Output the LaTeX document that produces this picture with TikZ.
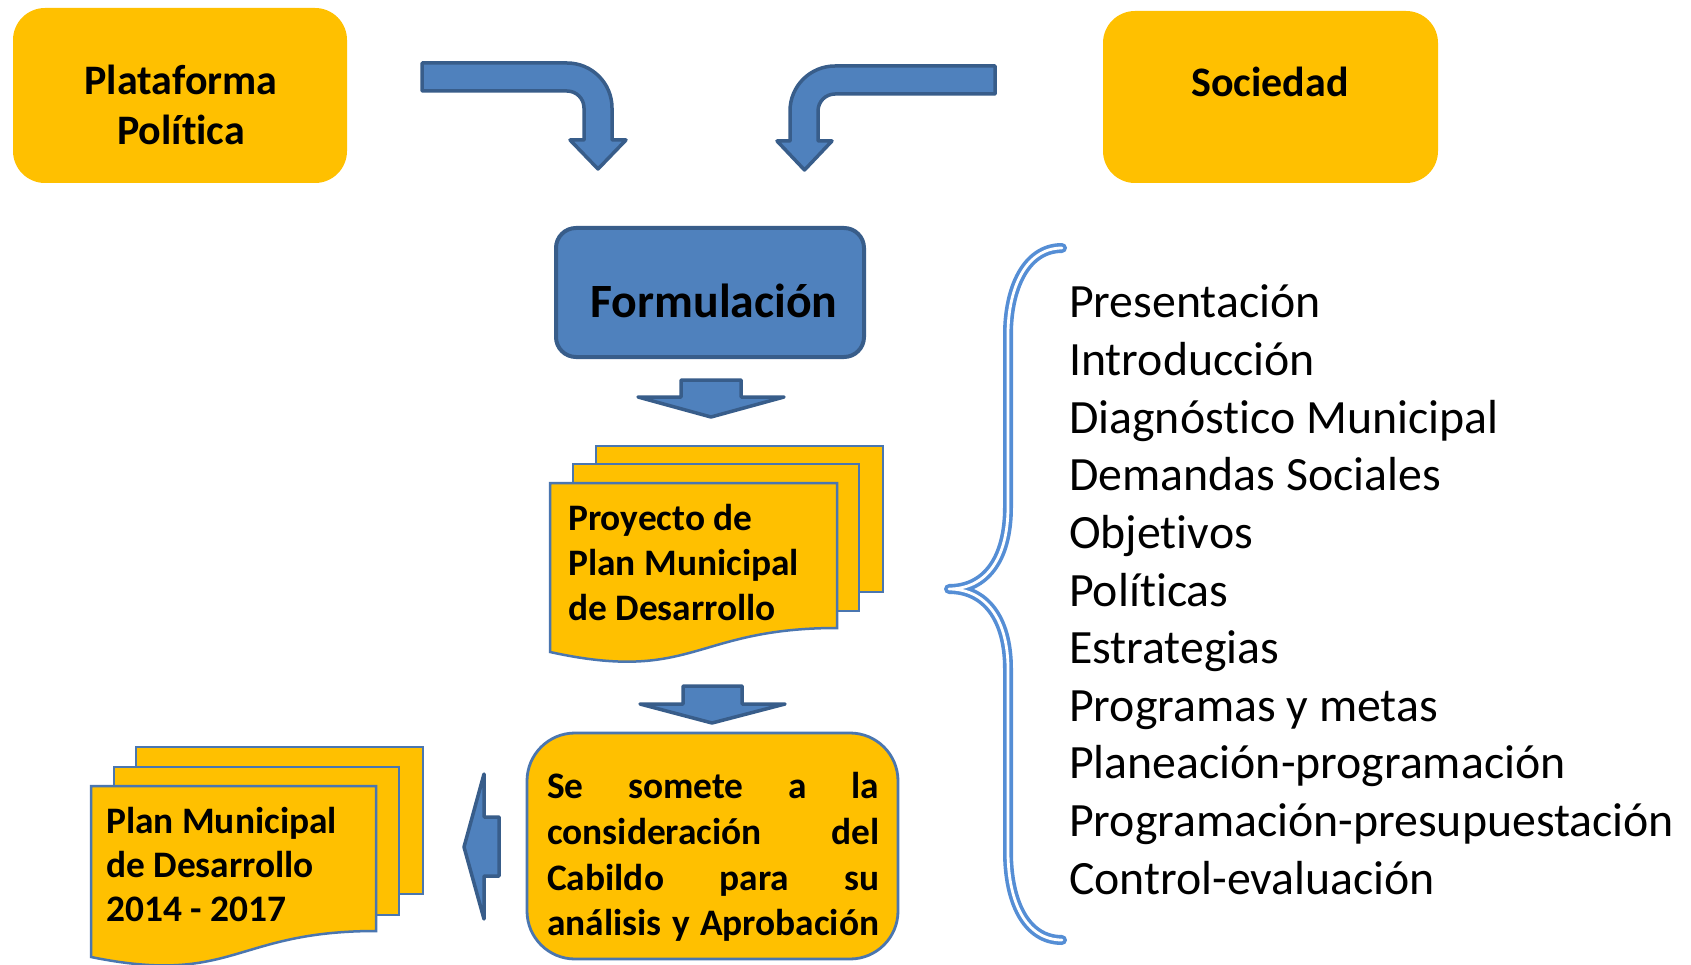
\documentclass[tikz,border=0pt]{standalone}
\usepackage{fontspec}
\setmainfont{Carlito}[Ligatures={NoCommon}]
\definecolor{yel}{HTML}{FFC000}
\definecolor{blueF}{HTML}{4F81BD}
\definecolor{blueD}{HTML}{385D8A}
\definecolor{sheetB}{HTML}{4A76B0}
\definecolor{braceC}{HTML}{558ED5}
\begin{document}
\begin{tikzpicture}[x=1pt,y=-1pt,
  ybox/.style={fill=yel, draw=none, inner sep=0pt},
  bbox/.style={fill=blueF, draw=blueD, line width=4pt, inner sep=0pt},
  cbox/.style={fill=yel, draw=sheetB, line width=2.8pt, inner sep=0pt},
  barrow/.style={fill=blueF, draw=blueD, line width=3.5pt, line join=round},
  sheet/.style={fill=yel, draw=sheetB, line width=2.5pt, line join=miter},
  tbig/.style={inner sep=0pt, font=\fontsize{42}{50.7}\selectfont\bfseries},
  tform/.style={inner sep=0pt, font=\fontsize{47.8}{56}\selectfont\bfseries},
  tdoc/.style={inner sep=0pt, anchor=base west, font=\fontsize{37.4}{45}\selectfont\bfseries},
  tlist/.style={inner sep=0pt, anchor=base west, font=\fontsize{47.8}{57.6}\selectfont},
  bracestyle/.style={draw=braceC, double=white, line width=3.6pt, double distance=2.8pt, line cap=round, line join=round}
]
\clip (0,0) rectangle (1691,965);
\fill[white] (0,0) rectangle (1691,965);

% top boxes
\node[ybox, minimum width=334, minimum height=175, rounded corners=32] (plat) at (180,95.5) {};
\node[tbig, anchor=base] (platA) at (181,94.5) {Plataforma};
\node[tbig, anchor=base] (platB) at (181,145) {Política};
\node[ybox, minimum width=335, minimum height=172, rounded corners=32] (soc) at (1270.5,97) {};
\node[tbig, anchor=base] (socT) at (1270,97) {Sociedad};

% bent arrows
\path[barrow] (422,63) -- (567,63) .. controls (591.9,63) and (612,83.1) .. (612,108)
  -- (612,140) -- (626,140) -- (598,169) -- (570,140) -- (584,140) -- (584,108)
  .. controls (584,98.6) and (576.4,91) .. (567,91) -- (422,91) -- cycle;
\path[barrow] (995,66) -- (835,66) .. controls (810.1,66) and (790,86.1) .. (790,111)
  -- (790,141) -- (777,141) -- (804.5,170) -- (832,141) -- (818,141) -- (818,111)
  .. controls (818,101.6) and (825.6,94) .. (835,94) -- (995,94) -- cycle;

% Formulacion
\node[bbox, minimum width=308, minimum height=129, rounded corners=20] (form) at (710,292.5) {};
\node[tform, anchor=base] (formT) at (714,318) {Formulación};

% down arrow 1
\path[barrow] (681,380) -- (741,380) -- (741,397) -- (784,397) -- (711,417) -- (638,397) -- (681,397) -- cycle;

% Proyecto stack
\path[sheet] (596,446) rectangle (883,592);
\path[sheet] (573,464) rectangle (859,611);
\path[sheet] (550,483) -- (837,483) -- (837,628) .. controls (693.5,628) and (693.5,683.5) .. (550,652) -- cycle;
\node[tdoc] (pr1) at (568,530) {Proyecto de};
\node[tdoc] (pr2) at (568,575) {Plan Municipal};
\node[tdoc] (pr3) at (568,620) {de Desarrollo};

% down arrow 2
\path[barrow] (683,686) -- (742,686) -- (742,704) -- (785,704) -- (712,723) -- (640,704) -- (683,704) -- cycle;

% Cabildo box
\node[cbox, minimum width=371, minimum height=226, rounded corners=48] (cab) at (712.5,846) {};
\node[tdoc] (c1) at (547,798) {\makebox[332pt][s]{Se somete a la}};
\node[tdoc] (c2) at (547,844) {\makebox[332pt][s]{consideración del}};
\node[tdoc] (c3) at (547,890) {\makebox[332pt][s]{Cabildo para su}};
\node[tdoc] (c4) at (547,935) {\makebox[332pt][s]{análisis y Aprobación}};

% left arrow
\path[barrow] (499,817) -- (484,817) -- (484,774) -- (464,847) -- (484,919) -- (484,876) -- (499,876) -- cycle;

% Plan stack
\path[sheet] (136,747) rectangle (423,894);
\path[sheet] (114,767) rectangle (399,915);
\path[sheet] (91,786) -- (376,786) -- (376,931) .. controls (233.5,931) and (233.5,986) .. (91,957) -- cycle;
\node[tdoc] (pl1) at (106,833) {Plan Municipal};
\node[tdoc] (pl2) at (106,877) {de Desarrollo};
\node[tdoc] (pl3) at (106,921) {2014 - 2017};

% brace
\draw[bracestyle] (1062,248) .. controls (1025,248) and (1008,290) .. (1008,334) -- (1008,507)
  .. controls (1008,560) and (985,589) .. (949,589)
  .. controls (985,589) and (1008,618) .. (1008,669) -- (1008,852)
  .. controls (1008,900) and (1025,940) .. (1062,940);

% list
\foreach \t [count=\i] in {Presentación,Introducción,Diagnóstico Municipal,Demandas Sociales,Objetivos,Políticas,Estrategias,Programas y metas,Planeación-programación,Programación-presupuestación,Control-evaluación}
  \node[tlist] (li\i) at ({1069},{318+57.6*(\i-1)}) {\t};
\end{tikzpicture}
\end{document}
